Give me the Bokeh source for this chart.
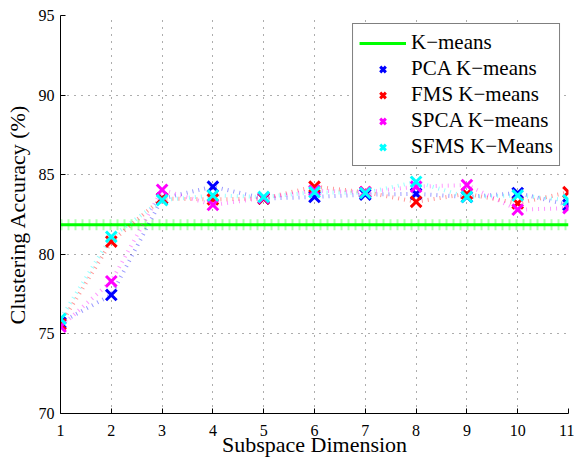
from bokeh.plotting import figure
from bokeh.models import Range1d, Legend, LegendItem, FixedTicker
from bokeh.embed import file_html
from bokeh.resources import INLINE

dims = [1, 2, 3, 4, 5, 6, 7, 8, 9, 10, 11]
kmeans_acc = 81.85
pca = [75.7, 77.45, 83.5, 84.25, 83.5, 83.6, 83.75, 83.8, 83.6, 83.85, 83.1]
fms = [75.6, 80.8, 83.5, 83.45, 83.5, 84.25, 83.9, 83.3, 83.8, 83.2, 83.9]
spca = [75.45, 78.3, 84.05, 83.1, 83.55, 84.0, 83.9, 84.25, 84.35, 82.8, 82.9]
sfms = [75.95, 81.1, 83.4, 83.7, 83.6, 83.9, 83.85, 84.55, 83.6, 83.7, 83.4]
x_ticks = dims
y_ticks = [70, 75, 80, 85, 90, 95]
labels = ["K\u2212means", "PCA K\u2212means", "FMS K\u2212means", "SPCA K\u2212means", "SFMS K\u2212Means"]

FONT = "Liberation Serif"
AXFONT = '"Liberation Serif"'

p = figure(width=574, height=467, output_backend="svg", toolbar_location=None,
           x_range=Range1d(1, 11), y_range=Range1d(70, 95),
           min_border_left=60, min_border_right=6, min_border_top=15, min_border_bottom=54)
p.outline_line_color = None
p.background_fill_color = "white"
p.border_fill_color = "white"

p.axis.major_tick_in = 5
p.axis.major_tick_out = 0
p.axis.minor_tick_in = 0
p.axis.minor_tick_out = 0
p.axis.axis_line_color = "black"
p.axis.major_tick_line_color = "black"
p.axis.major_label_text_font = AXFONT
p.axis.major_label_text_font_style = "normal"
p.axis.major_label_text_font_size = "16px"
p.axis.major_label_text_color = "black"
p.axis.axis_label_text_font = AXFONT
p.axis.axis_label_text_font_size = "22px"
p.axis.axis_label_text_font_style = "normal"
p.axis.axis_label_text_color = "black"

p.xaxis.ticker = FixedTicker(ticks=x_ticks)
p.yaxis.ticker = FixedTicker(ticks=y_ticks)
p.xaxis.axis_label = "Subspace Dimension"
p.yaxis.axis_label = "Clustering Accuracy (%)"
p.xaxis.major_label_standoff = 11
p.xaxis.axis_label_standoff = -7
p.yaxis.major_label_standoff = 6
p.yaxis.axis_label_standoff = 6

p.grid.grid_line_color = "#333333"
p.grid.grid_line_dash = "1 6"
p.grid.grid_line_width = 1
p.grid.grid_line_alpha = 0.8

km_y = [kmeans_acc] * len(dims)
p.line(dims, km_y, line_color="#00FF00", line_width=11, line_dash="2 5", line_alpha=0.3, line_cap="butt")
km = p.line(dims, km_y, line_color="#00FF00", line_width=3)

series = [(pca, "#0000FF"), (fms, "#FF0000"), (spca, "#FF00FF"), (sfms, "#00FFFF")]
items = [LegendItem(label=labels[0], renderers=[km])]
for vals, col in series:
    p.line(dims, vals, line_color=col, line_width=4, line_dash="1 5", line_alpha=0.4, line_cap="butt")
for (vals, col), lab in zip(series, labels[1:]):
    r = p.scatter(dims, vals, marker="x", size=15, line_color=col, line_width=3)
    items.append(LegendItem(label=lab, renderers=[r]))

legend = Legend(items=items, location="top_right")
legend.label_text_font = FONT
legend.label_text_font_size = "21px"
legend.label_text_color = "black"
legend.border_line_color = "black"
legend.border_line_width = 1
legend.background_fill_color = "white"
legend.background_fill_alpha = 1
legend.glyph_width = 47
legend.glyph_height = 20
legend.label_height = 20
legend.spacing = 1
legend.padding = 6
legend.margin = 8
legend.label_standoff = 5
p.add_layout(legend)

open("out.html", "w").write(file_html(p, INLINE))
